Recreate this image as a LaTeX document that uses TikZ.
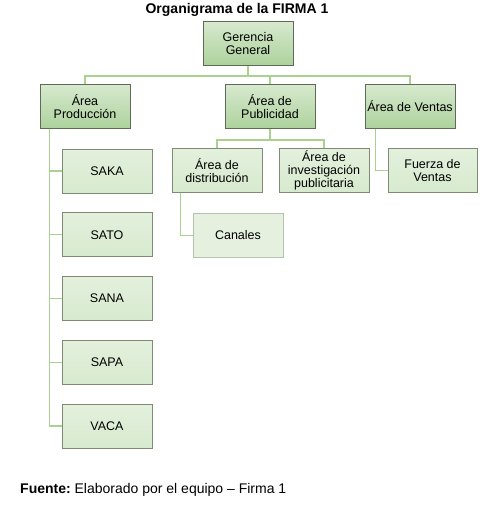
\documentclass[tikz,border=0pt]{standalone}
\usepackage{fontspec}
\setmainfont{Liberation Sans}
\usepackage{xcolor}
\definecolor{boxGreen}{HTML}{C6E0BA}
\definecolor{boxGreenDark}{HTML}{ADD29C}
\definecolor{leafGreen}{HTML}{D7EACE}
\definecolor{paleGreen}{HTML}{E5F0DF}
\definecolor{edgeGray}{HTML}{5E6B56}
\definecolor{leafGray}{HTML}{7E8C75}
\definecolor{paleGray}{HTML}{B8C2B0}
\definecolor{linkGreen}{HTML}{ABD191}
\usepackage{tikz}
\usetikzlibrary{positioning, calc}
\tikzset{
    % Base style for all boxes
    org base/.style={
        font=\fontsize{12.5}{13}\selectfont,
        align=center,
        text=black,
        minimum width=90pt,
        minimum height=44pt,
        inner sep=1pt,
        line width=0.9pt,
    },
    % Upper levels - green gradient, dark border
    unit/.style={
        org base,
        draw=edgeGray,
        top color=boxGreen!70!white,
        bottom color=boxGreenDark,
    },
    % Sections - lighter flat green
    section/.style={
        org base,
        draw=leafGray,
        top color=leafGreen!70!white,
        bottom color=leafGreen,
    },
    % Last level - pale green
    subsection/.style={
        org base,
        draw=paleGray,
        fill=paleGreen,
    },
    % Connector lines
    link/.style={
        draw=linkGreen,
        line width=1.1pt,
    },
}

\begin{document}
\begin{tikzpicture}[x=1pt, y=-1pt]
    \useasboundingbox (0,0) rectangle (488,508);

    \node (title) [anchor=base, inner sep=0pt, font=\fontsize{14}{16}\selectfont\bfseries] at (237,13.5) {Organigrama de la FIRMA 1};

    \node (ger) [unit] at (248,43.5) {Gerencia\\General};
    \node (prod) [unit] at (85,106.5) {Área\\Producción};
    \node (pub) [unit] at (270,106.5) {Área de\\Publicidad};
    \node (ven) [unit] at (410,106.5) {Área de Ventas};

    \node (saka) [section] at (107,171) {SAKA};
    \node (sato) [section] at (107,234.75) {SATO};
    \node (sana) [section] at (107,298.5) {SANA};
    \node (sapa) [section] at (107,362.25) {SAPA};
    \node (vaca) [section] at (107,426) {VACA};

    \node (dist) [section] at (217,170.5) {Área de\\distribución};
    \node (inv) [section] at (324,170.5) {Área de\\investigación\\publicitaria};
    \node (fuerza) [section, minimum width=89pt] at (432.5,170.5) {Fuerza de\\Ventas};
    \node (canales) [subsection] at (238,235.5) {Canales};

    \coordinate (bus) at (248,76);
    \coordinate (pubbus) at (270,140);

    \draw [link] (ger.south) -- (ger.south |- bus);
    \draw [link] (prod.north) |- (bus) -| (ven.north);
    \draw [link] (pub.north) -- (pub.north |- bus);

    \draw [link] (pub.south) -- (pub.south |- pubbus);
    \draw [link] (dist.north) |- (pubbus) -| (inv.north);

    \foreach \n in {saka, sato, sana, sapa, vaca}
        \draw [link] ([xshift=10pt]prod.south west) |- (\n.west);

    \draw [link] ([xshift=11pt]ven.south west) |- (fuerza.west);
    \draw [link] ([xshift=9pt]dist.south west) |- (canales.west);

    \node (source) [anchor=base west, inner sep=0pt, font=\fontsize{14}{16}\selectfont] at (20,493) {\textbf{Fuente:}~Elaborado por el equipo – Firma 1};
\end{tikzpicture}
\end{document}
